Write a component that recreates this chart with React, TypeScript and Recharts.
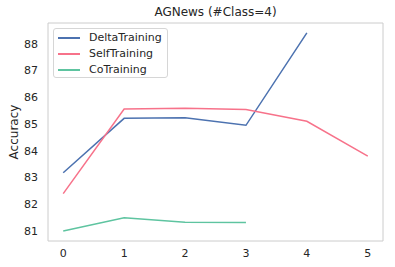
import React from 'react';
import { LineChart, Line, XAxis, YAxis, ReferenceArea } from 'recharts';

const steps = [0, 1, 2, 3, 4, 5];
const deltaTraining = [83.18, 85.21, 85.23, 84.95, 88.4, null];
const selfTraining = [82.4, 85.56, 85.59, 85.54, 85.1, 83.8];
const coTraining = [81.0, 81.5, 81.33, 81.32, null, null];
const yTicks = [81, 82, 83, 84, 85, 86, 87, 88];
const xTicks = [0, 1, 2, 3, 4, 5];

const seriesMeta = [
  { key: 'DeltaTraining', color: '#4c72b0' },
  { key: 'SelfTraining', color: '#f7728a' },
  { key: 'CoTraining', color: '#5ec4a0' },
];

const data = steps.map((s, i) => ({
  x: s,
  DeltaTraining: deltaTraining[i],
  SelfTraining: selfTraining[i],
  CoTraining: coTraining[i],
}));

const X_MIN = -0.25;
const X_MAX = 5.25;
const Y_MIN = 80.63;
const Y_MAX = 88.77;

const font = 'DejaVu Sans, sans-serif';
const textColor = '#262626';

function LegendBox() {
  return (
    <div
      style={{
        position: 'absolute',
        left: 53,
        top: 28,
        width: 113,
        height: 48,
        border: '1px solid #d6d6d6',
        borderRadius: 3,
        background: 'rgba(255,255,255,0.85)',
        fontFamily: font,
        fontSize: 11,
        color: textColor,
        boxSizing: 'content-box',
        zIndex: 2,
      }}
    >
      {seriesMeta.map((m, i) => (
        <div
          key={m.key}
          style={{ position: 'absolute', left: 4, top: 1 + i * 15.8, height: 16, display: 'flex', alignItems: 'center' }}
        >
          <div style={{ width: 22, height: 2, background: m.color }} />
          <span style={{ marginLeft: 9, lineHeight: '16px', whiteSpace: 'nowrap' }}>{m.key}</span>
        </div>
      ))}
    </div>
  );
}

export default function App() {
  return (
    <div style={{ position: 'absolute', left: 0, top: 0, width: 395, height: 267, background: '#fff' }}>
      <div
        style={{
          position: 'absolute',
          left: 48,
          width: 335,
          top: 4,
          textAlign: 'center',
          fontFamily: font,
          fontSize: 12,
          color: textColor,
          lineHeight: '16px',
        }}
      >
        AGNews (#Class=4)
      </div>
      <LineChart width={395} height={267} data={data} margin={{ top: 23, right: 12, bottom: 0, left: 0 }}>
        <ReferenceArea
          x1={X_MIN}
          x2={X_MAX}
          y1={Y_MIN}
          y2={Y_MAX}
          fill="none"
          stroke="#cccccc"
          strokeWidth={1}
          ifOverflow="visible"
        />
        <XAxis
          dataKey="x"
          type="number"
          domain={[X_MIN, X_MAX]}
          ticks={xTicks}
          allowDataOverflow
          height={26}
          axisLine={false}
          tickLine={false}
          tickSize={0}
          tickMargin={8}
          tick={{ fontFamily: font, fontSize: 11, fill: textColor }}
        />
        <YAxis
          type="number"
          domain={[Y_MIN, Y_MAX]}
          ticks={yTicks}
          allowDataOverflow
          width={48}
          axisLine={false}
          tickLine={false}
          tickSize={0}
          tickMargin={10}
          tick={{ fontFamily: font, fontSize: 11, fill: textColor }}
          label={{
            content: (props: any) => {
              const vb = props.viewBox || { x: 0, y: 23, width: 48, height: 218 };
              const cx = 14;
              const cy = vb.y + vb.height / 2;
              return (
                <text
                  x={cx}
                  y={cy}
                  transform={`rotate(-90, ${cx}, ${cy})`}
                  textAnchor="middle"
                  dominantBaseline="central"
                  fontFamily={font}
                  fontSize={12}
                  fill={textColor}
                >
                  Accuracy
                </text>
              );
            },
          }}
        />
        {seriesMeta.map((m) => (
          <Line
            key={m.key}
            dataKey={m.key}
            stroke={m.color}
            strokeWidth={1.5}
            dot={false}
            activeDot={false}
            connectNulls={false}
            isAnimationActive={false}
            type="linear"
          />
        ))}
      </LineChart>
      <LegendBox />
    </div>
  );
}
